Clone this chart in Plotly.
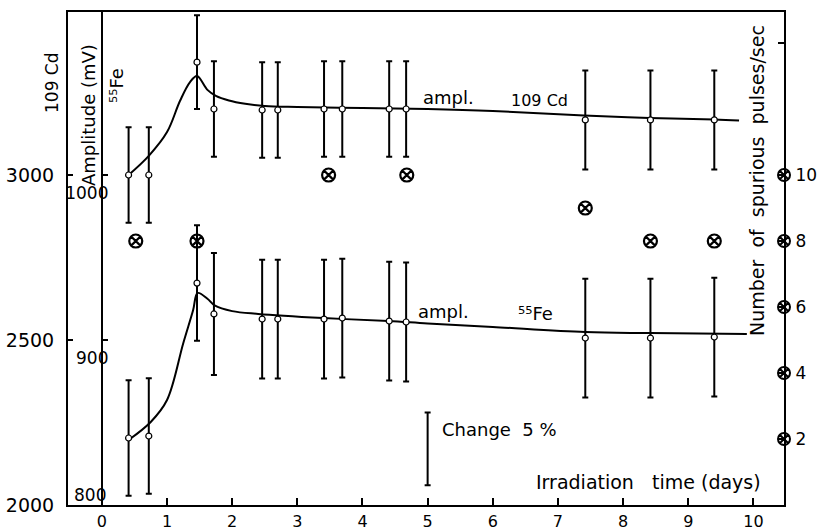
import plotly.graph_objects as go

# ---------------- data ----------------
DAYS = [0.41, 0.72, 1.46, 1.72, 2.46, 2.70, 3.41, 3.69, 4.41, 4.67, 7.42, 8.42, 9.40]

CD_AMPL = [3000, 3000, 3342, 3200, 3197, 3197, 3200, 3200, 3200, 3200, 3167, 3167, 3167]
CD_ERR = [145, 145, 142, 145, 145, 145, 145, 145, 145, 145, 150, 150, 150]

FE_AMPL = [840.6, 841.8, 934.5, 915.8, 912.7, 912.7, 912.7, 913.3, 911.5, 910.9, 901.2, 901.2, 901.8]
FE_ERR = [35, 35, 35, 37, 36, 36, 36, 36, 36, 36, 36, 36, 36]

CD_CURVE_X = [0.41, 0.72, 1.0, 1.2, 1.35, 1.46, 1.62, 1.75, 1.95, 2.2, 2.5, 3.0, 4.0, 5.0, 6.0, 7.4, 8.4, 9.4, 9.78]
CD_CURVE_Y = [3000, 3058, 3130, 3225, 3281, 3300, 3258, 3240, 3226, 3216, 3209, 3206, 3203, 3200, 3194, 3180, 3173, 3168, 3165]

FE_CURVE_X = [0.41, 0.75, 1.0, 1.25, 1.40, 1.47, 1.62, 1.73, 2.0, 2.4, 3.4, 4.4, 5.0, 6.0, 7.42, 8.42, 9.9]
FE_CURVE_Y = [839.4, 850.3, 863.6, 898.2, 918, 928.5, 925, 921, 917.5, 915.8, 913.3, 911.5, 910, 907.9, 904.8, 904.2, 903.6]

SPUR_X = [0.52, 1.46, 3.48, 4.68, 7.42, 8.42, 9.40]
SPUR_Y = [8, 8, 10, 10, 9, 8, 8]

CHANGE_X = [5.0]
CHANGE_LOW = 812
CHANGE_HIGH = 856

X_TICKS = list(range(0, 11))
CD_TICKS = [2000, 2500, 3000]
FE_TICKS = [900, 1000]
FE_TICK_TEXT = ["900", "1000"]
FE_BOTTOM_LABEL = "800"
SPUR_TICKS = [2, 4, 6, 8, 10]
SPUR_TICK_TEXT = ["2", "4", "6", "8", "10"]
SPUR_MINOR_TICKS = [14]

# ---------------- geometry ----------------
W, H = 817, 531
L, R, T, B = 68, 33, 12, 26
XR = [-0.52, 10.47]
CD_R = [2000, 3494]
FE_R = [800, 1098.8]
SP_R = [0, 14.94]

FONT = "DejaVu Sans"


def P(xp, yp):
    """pixel -> paper coordinates (for text placement)"""
    return (xp - L) / (W - L - R), (H - B - yp) / (H - T - B)


fig = go.Figure()

blk = "black"

# 109Cd curve and points
fig.add_trace(go.Scatter(x=CD_CURVE_X, y=CD_CURVE_Y, mode="lines",
                         line=dict(color=blk, width=2, shape="spline", smoothing=1.0),
                         yaxis="y", hoverinfo="skip"))
fig.add_trace(go.Scatter(x=DAYS, y=CD_AMPL, mode="markers",
                         marker=dict(symbol="circle", size=6, color="white",
                                     line=dict(color=blk, width=1.2)),
                         error_y=dict(type="data", array=CD_ERR, color=blk, thickness=2, width=3),
                         yaxis="y", hoverinfo="skip"))

# 55Fe curve and points
fig.add_trace(go.Scatter(x=FE_CURVE_X, y=FE_CURVE_Y, mode="lines",
                         line=dict(color=blk, width=2, shape="spline", smoothing=1.0),
                         yaxis="y2", hoverinfo="skip"))
fig.add_trace(go.Scatter(x=DAYS, y=FE_AMPL, mode="markers",
                         marker=dict(symbol="circle", size=6, color="white",
                                     line=dict(color=blk, width=1.2)),
                         error_y=dict(type="data", array=FE_ERR, color=blk, thickness=2, width=3),
                         yaxis="y2", hoverinfo="skip"))

# "Change 5%" scale bar
mid = (CHANGE_LOW + CHANGE_HIGH) / 2
half = (CHANGE_HIGH - CHANGE_LOW) / 2
fig.add_trace(go.Scatter(x=CHANGE_X, y=[mid], mode="markers",
                         marker=dict(size=1, color="rgba(0,0,0,0)"),
                         error_y=dict(type="data", array=[half], color=blk, thickness=2, width=3),
                         yaxis="y2", hoverinfo="skip"))

# spurious pulses
fig.add_trace(go.Scatter(x=SPUR_X, y=SPUR_Y, mode="markers",
                         marker=dict(symbol="circle-x-open", size=13, color=blk,
                                     line=dict(color=blk, width=2.2)),
                         yaxis="y3", hoverinfo="skip"))
fig.add_trace(go.Scatter(x=[XR[1]] * len(SPUR_TICKS), y=SPUR_TICKS, mode="markers",
                         marker=dict(symbol="circle-x-open", size=12, color=blk,
                                     line=dict(color=blk, width=2)),
                         cliponaxis=False, yaxis="y3", hoverinfo="skip"))

fe_pos = (0 - XR[0]) / (XR[1] - XR[0])

fig.update_layout(
    width=W, height=H,
    margin=dict(l=L, r=R, t=T, b=B, pad=0, autoexpand=False),
    paper_bgcolor="white", plot_bgcolor="white",
    showlegend=False, hovermode=False,
    font=dict(family=FONT, color=blk, size=16),
    xaxis=dict(range=XR, tickvals=X_TICKS, ticks="inside", ticklen=7, tickwidth=2,
               tickcolor=blk, showline=True, linewidth=2, linecolor=blk, mirror=True,
               showgrid=False, zeroline=False, tickfont=dict(size=16),
               ticklabelstandoff=1, automargin=False),
    yaxis=dict(range=CD_R, tickvals=CD_TICKS, ticks="inside", ticklen=5, tickwidth=2,
               tickcolor=blk, showline=True, linewidth=2, linecolor=blk, mirror=True,
               showgrid=False, zeroline=False, tickfont=dict(size=19),
               ticklabelstandoff=8, automargin=False),
    yaxis2=dict(range=FE_R, tickvals=FE_TICKS, ticktext=FE_TICK_TEXT, overlaying="y",
                anchor="free", position=fe_pos, side="left",
                ticks="inside", ticklen=5, tickwidth=2, tickcolor=blk,
                showline=True, linewidth=2, linecolor=blk,
                showgrid=False, zeroline=False, tickfont=dict(size=17),
                ticklabelshift=18, ticklabelstandoff=-11, automargin=False),
    yaxis3=dict(range=SP_R, tickvals=SPUR_TICKS, ticktext=SPUR_TICK_TEXT, overlaying="y",
                anchor="x", side="right",
                ticks="inside", ticklen=6, tickwidth=2, tickcolor=blk,
                minor=dict(tickvals=SPUR_MINOR_TICKS, ticks="inside", ticklen=6,
                           tickwidth=2, tickcolor=blk, showgrid=False),
                showline=True, linewidth=2, linecolor=blk,
                showgrid=False, zeroline=False, tickfont=dict(size=17),
                ticklabelstandoff=6, automargin=False),
)


def txt(text, xp, yp, size, angle=0):
    x, y = P(xp, yp)
    fig.add_annotation(text=text, x=x, y=y, xref="paper", yref="paper",
                       showarrow=False, textangle=angle, xanchor="center", yanchor="middle",
                       font=dict(family=FONT, size=size, color=blk))


txt("109 Cd", 52, 83, 17, -90)
txt("Amplitude (mV)", 88, 115, 18, -90)
txt("⁵⁵Fe", 116, 86, 18, -90)
txt(FE_BOTTOM_LABEL, 90, 495, 17)
txt("ampl.", 448, 97, 18)
txt("109 Cd", 539, 101, 16)
txt("ampl.", 443, 311, 18)
txt("⁵⁵Fe", 535, 313, 18)
txt("Change  5 %", 499, 429, 18)
txt("Irradiation   time (days)", 648, 482, 19)
txt("Number  of  spurious  pulses/sec", 757, 181, 19, -90)

fig.write_html("out.html")
